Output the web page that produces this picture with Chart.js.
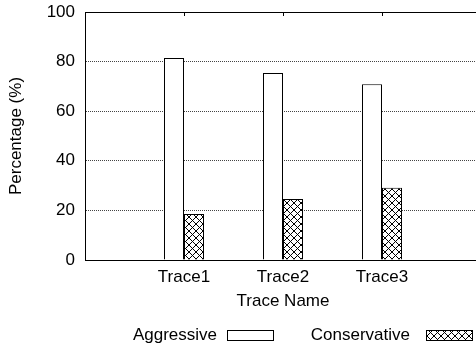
<!DOCTYPE html>
<html>
<head>
<meta charset="utf-8">
<script src="https://cdn.jsdelivr.net/npm/chart.js@4/dist/chart.umd.min.js"></script>
<style>
  html, body { margin: 0; padding: 0; background: #fff; }
  #frame { width: 476px; height: 348px; overflow: hidden; position: relative; }
  canvas { display: block; }
</style>
</head>
<body>
<div id="frame"><canvas id="c" width="500" height="348"></canvas></div>
<script>
// ---- data ----
const categories = ['Trace1', 'Trace2', 'Trace3'];
const seriesNames = ['Aggressive', 'Conservative'];
const aggressiveValues = [81.5, 75.4, 70.9];
const conservativeValues = [18.5, 24.6, 29.1];
const yTicks = [0, 20, 40, 60, 80, 100];

// gnuplot-like layout: one empty slot on each side of the categories
const labels = [''].concat(categories, ['']);
const pad = (arr) => [null].concat(arr, [null]);

// crosshatch pattern
function makeHatch() {
  const s = 7;
  const pc = document.createElement('canvas');
  pc.width = s; pc.height = s;
  const g = pc.getContext('2d');
  g.fillStyle = '#fff';
  g.fillRect(0, 0, s, s);
  g.strokeStyle = '#000';
  g.lineWidth = 1;
  g.beginPath();
  g.moveTo(0, 0); g.lineTo(s, s);
  g.moveTo(0, s); g.lineTo(s, 0);
  g.stroke();
  return g.createPattern(pc, 'repeat');
}
const hatch = makeHatch();

const FONT = 'Liberation Sans, Arial, Helvetica, sans-serif';
const FS = 17;

const framePlugin = {
  id: 'framePlugin',
  afterDraw(chart) {
    const ctx = chart.ctx;
    const a = chart.chartArea;
    const xs = chart.scales.x;
    ctx.save();
    ctx.strokeStyle = '#000';
    ctx.lineWidth = 1;
    ctx.setLineDash([]);
    ctx.beginPath();
    ctx.moveTo(a.left, a.top + 0.5);
    ctx.lineTo(a.right, a.top + 0.5);
    labels.forEach((l, i) => {
      if (!l) return;
      const px = Math.round(xs.getPixelForValue(i)) + 0.5;
      ctx.moveTo(px, a.top);
      ctx.lineTo(px, a.top + 4);
    });
    ctx.stroke();

    // legend (gnuplot style: text then sample)
    const items = [
      { textRight: 217, boxLeft: 227 },
      { textRight: 410, boxLeft: 426 }
    ];
    ctx.font = FS + 'px ' + FONT;
    ctx.textAlign = 'right';
    ctx.textBaseline = 'middle';
    ctx.fillStyle = '#000';
    chart.data.datasets.forEach((ds, i) => {
      const it = items[i];
      ctx.fillText(ds.label, it.textRight, 335);
      ctx.fillStyle = ds.backgroundColor;
      ctx.fillRect(it.boxLeft, 330, 46, 10);
      ctx.strokeStyle = '#000';
      ctx.strokeRect(it.boxLeft + 0.5, 330.5, 46, 10);
      ctx.fillStyle = '#000';
    });
    ctx.restore();
  }
};

new Chart(document.getElementById('c'), {
  type: 'bar',
  data: {
    labels: labels,
    datasets: [
      {
        label: seriesNames[0],
        data: pad(aggressiveValues),
        backgroundColor: '#ffffff',
        borderColor: '#000000',
        borderWidth: 1
      },
      {
        label: seriesNames[1],
        data: pad(conservativeValues),
        backgroundColor: hatch,
        borderColor: '#000000',
        borderWidth: 1
      }
    ]
  },
  options: {
    responsive: false,
    devicePixelRatio: 1,
    animation: false,
    layout: { padding: { left: 0, right: 19, top: 12, bottom: 36 } },
    plugins: {
      legend: { display: false },
      tooltip: { enabled: false }
    },
    datasets: {
      bar: { categoryPercentage: 40 / 99, barPercentage: 1 }
    },
    scales: {
      x: {
        offset: false,
        afterFit(s) { s.height = 52; s.paddingLeft = 0; s.paddingRight = 0; },
        grid: { display: false, drawTicks: false },
        border: { display: true, color: '#000', width: 1 },
        ticks: {
          autoSkip: false,
          maxRotation: 0,
          padding: 7,
          color: '#000',
          font: { family: FONT, size: FS }
        },
        title: {
          display: true,
          text: 'Trace Name',
          color: '#000',
          padding: { top: 0, bottom: 0 },
          font: { family: FONT, size: FS }
        }
      },
      y: {
        min: 0,
        max: 100,
        afterFit(s) { s.width = 85; s.paddingTop = 0; s.paddingBottom = 0; },
        afterBuildTicks(s) { s.ticks = yTicks.map(v => ({ value: v })); },
        grid: {
          drawTicks: false,
          color: (c) => (c.tick && (c.tick.value === 0 || c.tick.value === 100)) ? 'rgba(0,0,0,0)' : '#444',
          lineWidth: 1
        },
        border: { display: true, color: '#000', width: 1, dash: [1, 1] },
        ticks: {
          padding: 10,
          color: '#000',
          font: { family: FONT, size: FS }
        },
        title: {
          display: true,
          text: 'Percentage (%)',
          color: '#000',
          padding: { top: 6, bottom: 0 },
          font: { family: FONT, size: FS }
        }
      }
    }
  },
  plugins: [framePlugin]
});
</script>
</body>
</html>
